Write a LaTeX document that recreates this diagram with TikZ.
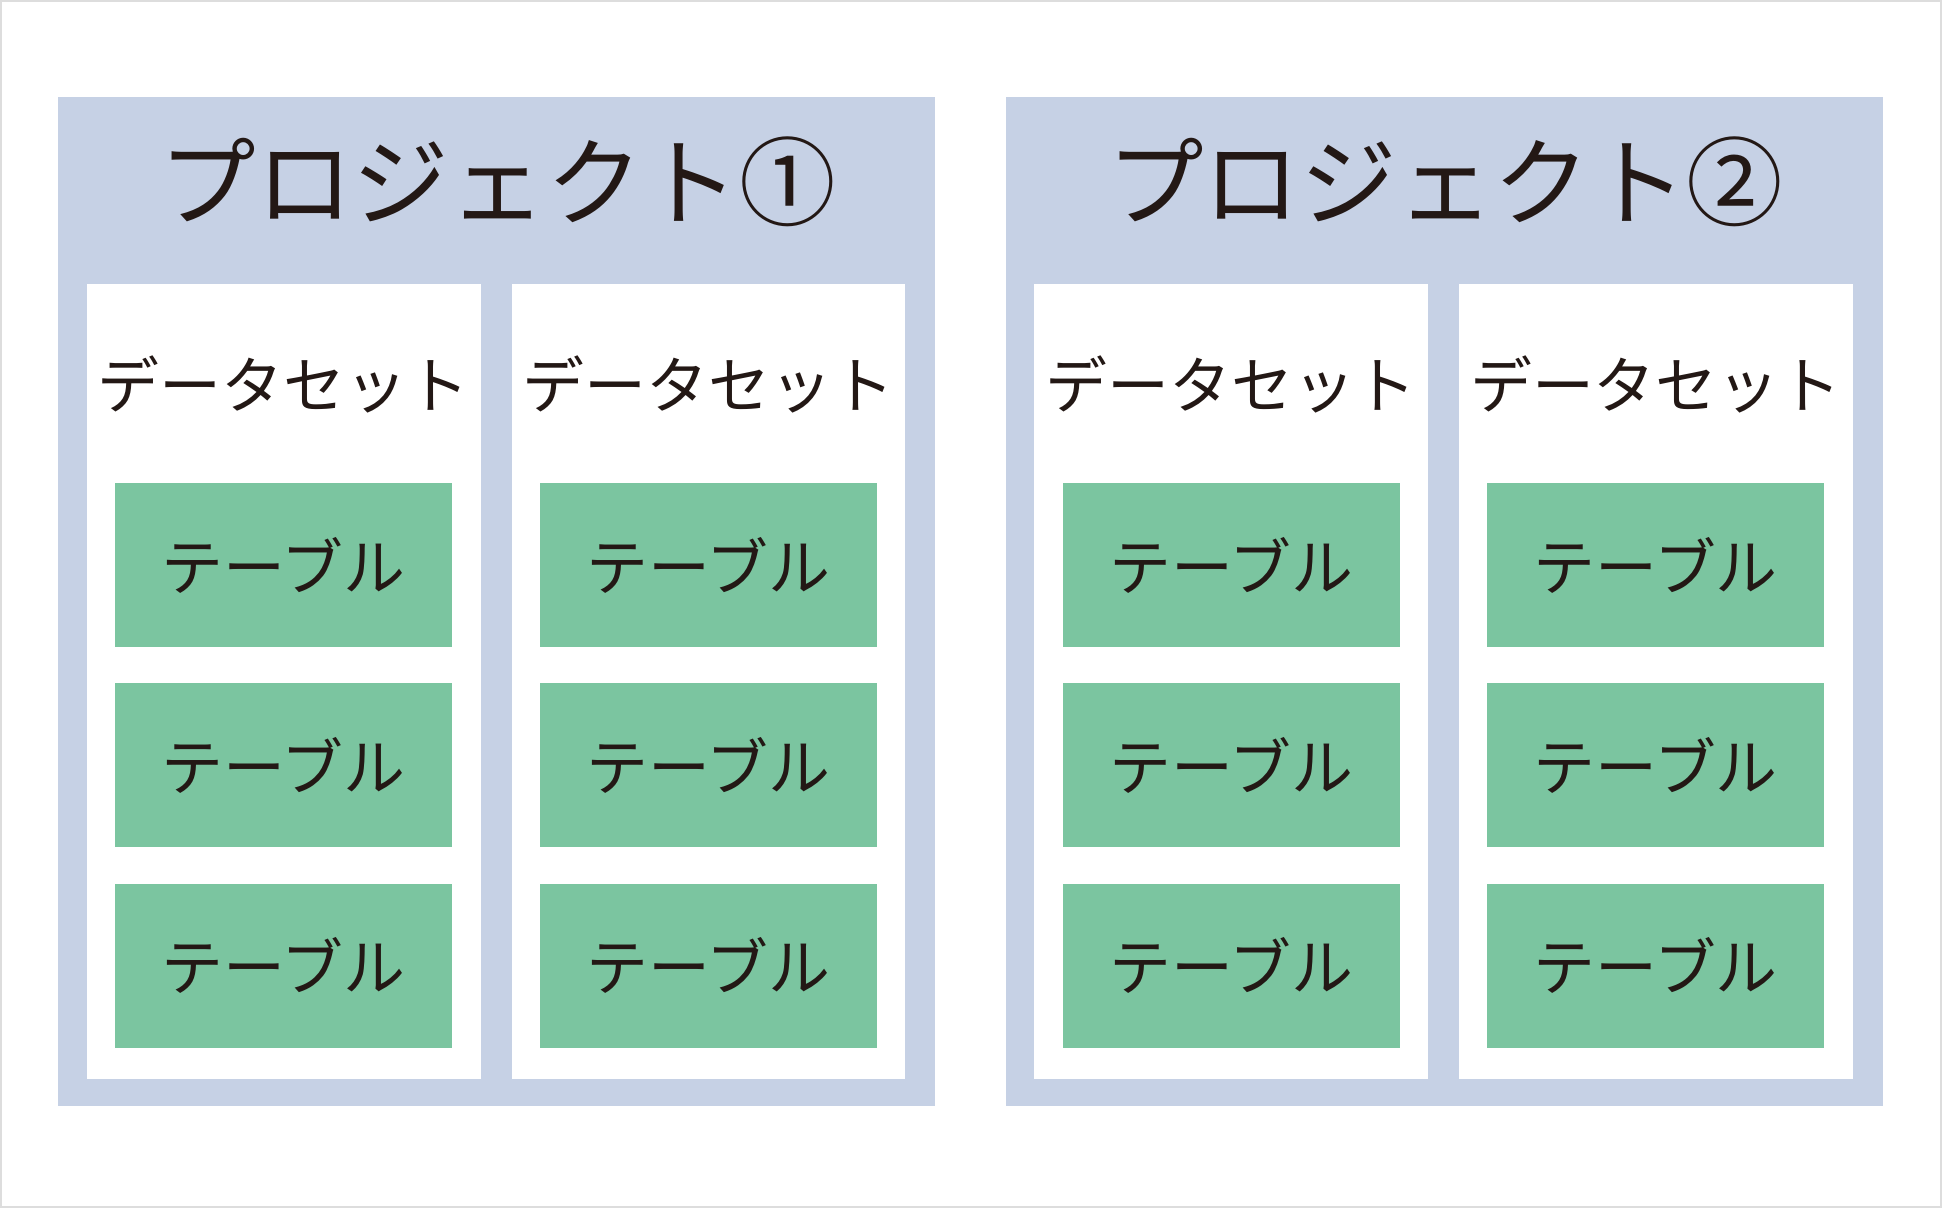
\documentclass[tikz,border=0pt]{standalone}
\usepackage{fontspec}
\setmainfont{Noto Sans CJK JP}
\definecolor{projbg}{HTML}{C6D1E5}
\definecolor{tablegreen}{HTML}{7BC5A0}
\definecolor{framegray}{HTML}{DDDDDD}
\definecolor{inkblack}{HTML}{231815}
\tikzset{
  project/.style={fill=projbg},
  dataset/.style={fill=white},
  tablebox/.style={fill=tablegreen},
  titletext/.style={font=\fontsize{39}{41}\selectfont,text=inkblack},
  labeltext/.style={font=\fontsize{25}{27}\selectfont,text=inkblack},
}
\begin{document}
\begin{tikzpicture}[x=0.5pt,y=-0.5pt]
      \useasboundingbox (0,0) rectangle (1568,975.4);
      \draw[draw=framegray,line width=1pt] (1,1) rectangle (1567,974.4);
      % project 1
      \fill[project] (47,78) rectangle (755,893);
      \node[titletext] (p1title) at (402,147) {プロジェクト①};
      \fill[dataset] (70,229) rectangle (388,871);
      \node[labeltext] (d1label) at (229,310) {データセット};
      \fill[tablebox] (93,390) rectangle (365,522.5) node[pos=0.5,labeltext] (t11) {テーブル};
      \fill[tablebox] (93,551.5) rectangle (365,684) node[pos=0.5,labeltext] (t12) {テーブル};
      \fill[tablebox] (93,713.5) rectangle (365,846) node[pos=0.5,labeltext] (t13) {テーブル};
      \fill[dataset] (413,229) rectangle (731,871);
      \node[labeltext] (d2label) at (572,310) {データセット};
      \fill[tablebox] (436,390) rectangle (708,522.5) node[pos=0.5,labeltext] (t21) {テーブル};
      \fill[tablebox] (436,551.5) rectangle (708,684) node[pos=0.5,labeltext] (t22) {テーブル};
      \fill[tablebox] (436,713.5) rectangle (708,846) node[pos=0.5,labeltext] (t23) {テーブル};
      % project 2
      \fill[project] (812,78) rectangle (1520,893);
      \node[titletext] (p2title) at (1167,147) {プロジェクト②};
      \fill[dataset] (835,229) rectangle (1153,871);
      \node[labeltext] (d3label) at (994,310) {データセット};
      \fill[tablebox] (858,390) rectangle (1130,522.5) node[pos=0.5,labeltext] (t31) {テーブル};
      \fill[tablebox] (858,551.5) rectangle (1130,684) node[pos=0.5,labeltext] (t32) {テーブル};
      \fill[tablebox] (858,713.5) rectangle (1130,846) node[pos=0.5,labeltext] (t33) {テーブル};
      \fill[dataset] (1178,229) rectangle (1496,871);
      \node[labeltext] (d4label) at (1337,310) {データセット};
      \fill[tablebox] (1201,390) rectangle (1473,522.5) node[pos=0.5,labeltext] (t41) {テーブル};
      \fill[tablebox] (1201,551.5) rectangle (1473,684) node[pos=0.5,labeltext] (t42) {テーブル};
      \fill[tablebox] (1201,713.5) rectangle (1473,846) node[pos=0.5,labeltext] (t43) {テーブル};
    \end{tikzpicture}
\end{document}
